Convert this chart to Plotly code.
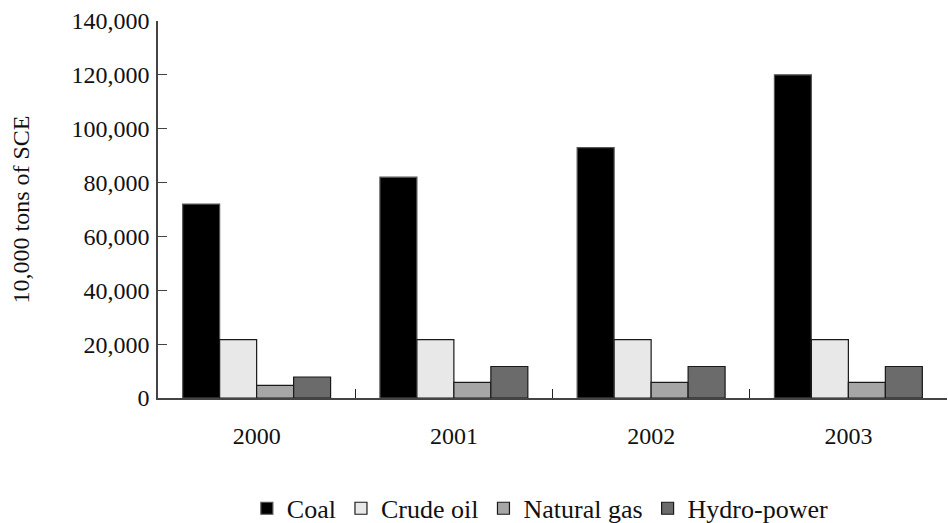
import plotly.graph_objects as go

years = ["2000", "2001", "2002", "2003"]
coal = [72000, 82000, 93000, 120000]
crude_oil = [21700, 21700, 21700, 21700]
natural_gas = [4700, 5800, 5800, 5800]
hydro_power = [7800, 11700, 11700, 11700]

series_names = ["Coal", "Crude oil", "Natural gas", "Hydro-power"]
series_values = [coal, crude_oil, natural_gas, hydro_power]
colors = ["#000000", "#e8e8e8", "#a6a6a6", "#6b6b6b"]
line_colors = ["#555555", "#1a1a1a", "#1a1a1a", "#1a1a1a"]

FONT = "Liberation Serif, DejaVu Serif, serif"

fig = go.Figure()
for name, vals, c, lc in zip(series_names, series_values, colors, line_colors):
    fig.add_trace(go.Bar(
        x=years, y=vals, name=name,
        marker=dict(color=c, line=dict(color=lc, width=1.2)),
    ))

fig.update_layout(
    width=948, height=523,
    margin=dict(l=158, r=1, t=21, b=125),
    paper_bgcolor="white", plot_bgcolor="white",
    font=dict(family=FONT, size=24, color="#111111"),
    barmode="group", bargap=0.25, bargroupgap=0,
    showlegend=True,
    legend=dict(
        orientation="h", x=0.570, xanchor="center", xref="container",
        y=0.028, yanchor="middle", yref="container",
        font=dict(family=FONT, size=26, color="#111111"),
        itemwidth=30, tracegroupgap=0,
        bgcolor="rgba(0,0,0,0)",
    ),
)

fig.update_xaxes(
    type="category", range=[-0.5, 3.5],
    showline=True, linecolor="#444444", linewidth=1.5,
    ticks="inside", tickson="boundaries", ticklen=9, tickcolor="#222222", tickwidth=1.2,
    showgrid=False, zeroline=False,
    ticklabelstandoff=15,
    tickfont=dict(family=FONT, size=24, color="#111111"),
)
fig.update_yaxes(
    range=[0, 140000], tickvals=[0, 20000, 40000, 60000, 80000, 100000, 120000, 140000],
    tickformat=",d",
    showline=True, linecolor="#444444", linewidth=1.5,
    ticks="inside", ticklen=9, tickcolor="#444444", tickwidth=1.2,
    showgrid=False, zeroline=False,
    ticklabelstandoff=2,
    tickfont=dict(family=FONT, size=24, color="#111111"),
    title=dict(text="10,000 tons of SCE", font=dict(family=FONT, size=24, color="#111111"), standoff=35),
)

fig.write_html("out.html", config={"displayModeBar": False},
               post_script="document.body.style.margin='0';")
